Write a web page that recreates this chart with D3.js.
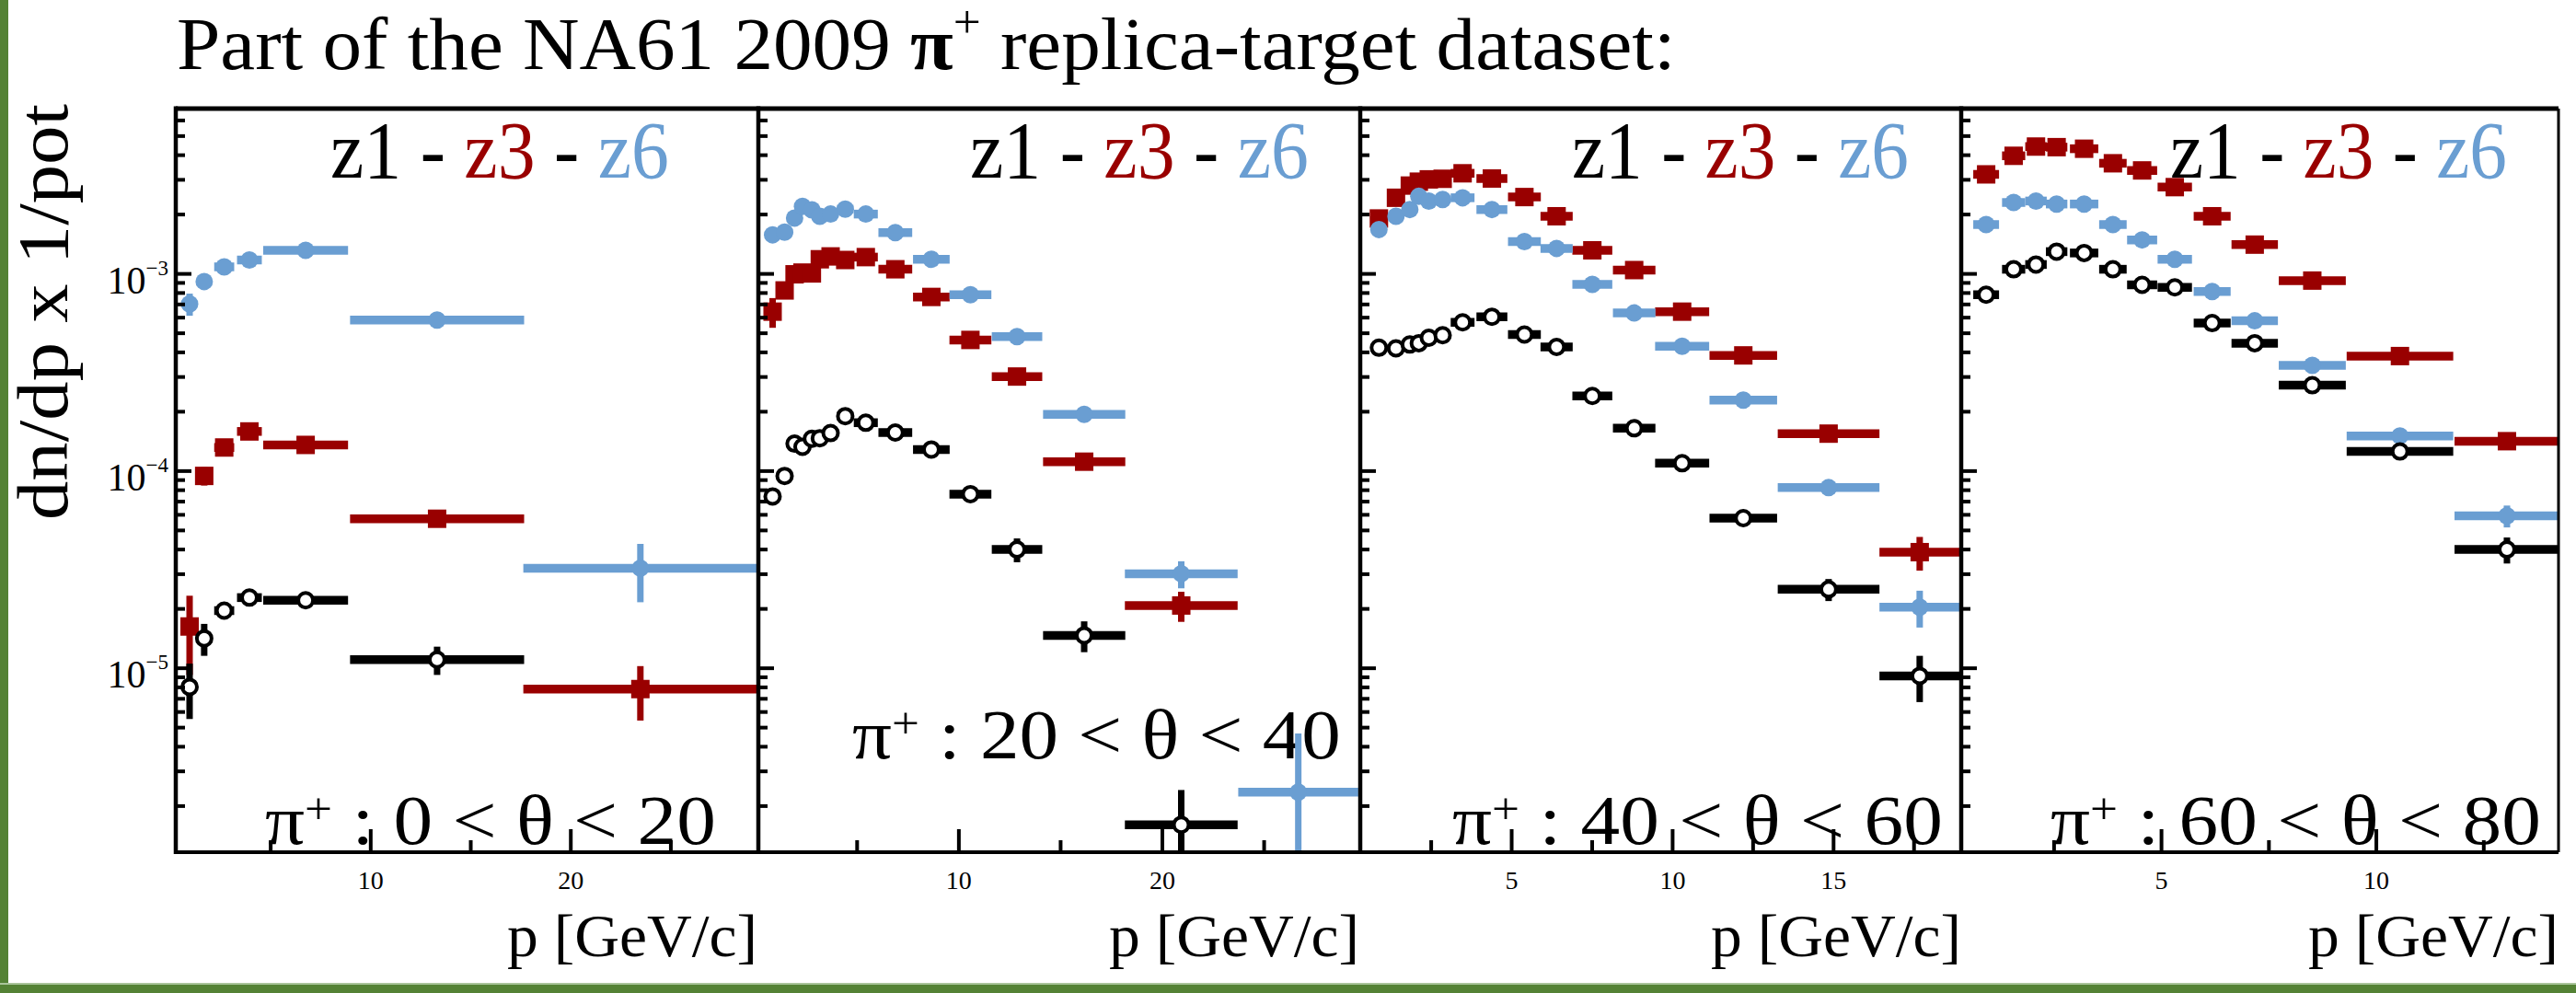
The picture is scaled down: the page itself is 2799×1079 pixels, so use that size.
<!DOCTYPE html>
<html>
<head>
<meta charset="utf-8">
<script src="https://cdn.jsdelivr.net/npm/d3@7"></script>
<style>
    html, body { margin: 0; padding: 0; background: #fff; }
    svg { display: block; }
    text { font-family: "Liberation Serif", "Times New Roman", serif; }
</style>
</head>
<body>
<div id="chart"></div>
<script>

// ---- data ----
var thetaBins = ["0 < θ < 20", "20 < θ < 40", "40 < θ < 60", "60 < θ < 80"];
var pRanges = [[0.28, 29.35], [0.17, 29.7], [0.31, 18.98], [0.35, 14.25]];
var pMajorTicks = [[10, 20], [10, 20], [5, 10, 15], [5, 10]];
var pMinorTicks = [[5, 15, 25], [5, 15, 25], [2.5, 7.5, 12.5, 17.5], [2.5, 7.5, 12.5]];
var yDecades = [-3, -4, -5];
var yRange = [1.161e-6, 6.855e-3];

// p bins: [centre, half width]
var pBins0 = [[0.97,0.3],[1.7,0.35],[2.7,0.5],[3.96,0.62],[6.77,2.12],[13.34,4.35],[23.5,5.85]];
var pBins1 = [[0.87,0.25],[1.46,0.25],[1.95,0.2],[2.34,0.2],[2.8,0.2],[3.19,0.2],[3.72,0.3],[4.44,0.4],[5.45,0.59],[6.9,0.83],[8.67,0.9],[10.59,1.03],[12.88,1.24],[16.18,2.02],[20.95,2.77],[26.7,2.95]];
var pBins2 = [[0.89,0.2],[1.42,0.2],[1.85,0.15],[2.13,0.15],[2.44,0.15],[2.87,0.2],[3.49,0.37],[4.4,0.48],[5.41,0.51],[6.41,0.5],[7.52,0.62],[8.82,0.66],[10.31,0.84],[12.21,1.05],[14.86,1.58],[17.69,1.25]];
var pBins3 = [[0.93,0.3],[1.57,0.27],[2.09,0.25],[2.57,0.25],[3.21,0.33],[3.88,0.32],[4.56,0.35],[5.32,0.4],[6.19,0.43],[7.18,0.54],[8.52,0.78],[10.56,1.24],[13.05,1.22]];

// dn/dp x 1/pot: [value, error]
var z1_0 = [[8.0e-6,2.5e-6],[1.41e-5,2.6e-6],[1.95e-5,1.2e-6],[2.27e-5,1.0e-6],[2.2e-5,0.8e-6],[1.1e-5,1.8e-6],null];
var z3_0 = [[1.62e-5,7.0e-6],[9.4e-5,1.0e-5],[1.31e-4,1.3e-5],[1.58e-4,0.9e-5],[1.35e-4,0.6e-5],[5.7e-5,0.3e-5],[7.8e-6,2.4e-6]];
var z6_0 = [[7.0e-4,0.9e-4],[9.1e-4,0.5e-4],[1.08e-3,0.4e-4],[1.17e-3,0.4e-4],[1.31e-3,0.4e-4],[5.8e-4,0.3e-4],[3.2e-5,1.05e-5]];

var z1_1 = [[7.4e-5,0.5e-5],[9.4e-5,0.6e-5],[1.37e-4,0.6e-5],[1.32e-4,0.6e-5],[1.45e-4,0.6e-5],[1.46e-4,0.6e-5],[1.55e-4,0.6e-5],[1.89e-4,0.7e-5],[1.75e-4,0.6e-5],[1.56e-4,0.6e-5],[1.28e-4,0.6e-5],[7.6e-5,0.5e-5],[3.98e-5,5.5e-6],[1.46e-5,2.6e-6],[1.6e-6,0.8e-6],null];
var z3_1 = [[6.4e-4,1.1e-4],[8.2e-4,0.6e-4],[9.9e-4,0.4e-4],[1.01e-3,0.4e-4],[1.0e-3,0.4e-4],[1.18e-3,0.4e-4],[1.22e-3,0.4e-4],[1.17e-3,0.4e-4],[1.21e-3,0.4e-4],[1.05e-3,0.4e-4],[7.6e-4,0.3e-4],[4.6e-4,0.2e-4],[3.0e-4,0.15e-4],[1.11e-4,0.6e-5],[2.07e-5,3.6e-6],null];
var z6_1 = [[1.57e-3,0.6e-4],[1.62e-3,0.6e-4],[1.91e-3,0.6e-4],[2.19e-3,0.6e-4],[2.1e-3,0.6e-4],[1.95e-3,0.6e-4],[2.0e-3,0.6e-4],[2.12e-3,0.6e-4],[2.0e-3,0.6e-4],[1.61e-3,0.5e-4],[1.18e-3,0.4e-4],[7.8e-4,0.3e-4],[4.78e-4,0.2e-4],[1.93e-4,0.8e-5],[3.0e-5,4.7e-6],[2.34e-6,2.3e-6]];

var z1_2 = [[4.2e-4,0.2e-4],[4.17e-4,0.2e-4],[4.36e-4,0.2e-4],[4.43e-4,0.2e-4],[4.72e-4,0.2e-4],[4.86e-4,0.2e-4],[5.65e-4,0.2e-4],[6.03e-4,0.2e-4],[4.9e-4,0.2e-4],[4.24e-4,0.2e-4],[2.39e-4,0.1e-4],[1.64e-4,0.8e-5],[1.09e-4,0.6e-5],[5.74e-5,0.4e-5],[2.5e-5,3.2e-6],[9.1e-6,2.4e-6]];
var z3_2 = [[1.9e-3,0.8e-4],[2.42e-3,0.8e-4],[2.79e-3,0.8e-4],[2.92e-3,0.8e-4],[3.0e-3,0.8e-4],[3.02e-3,0.8e-4],[3.22e-3,0.8e-4],[3.03e-3,0.8e-4],[2.44e-3,0.7e-4],[1.95e-3,0.6e-4],[1.31e-3,0.5e-4],[1.04e-3,0.4e-4],[6.4e-4,0.3e-4],[3.84e-4,0.2e-4],[1.54e-4,0.9e-5],[3.86e-5,7.5e-6]];
var z6_2 = [[1.67e-3,0.6e-4],[1.95e-3,0.6e-4],[2.11e-3,0.6e-4],[2.46e-3,0.6e-4],[2.33e-3,0.6e-4],[2.37e-3,0.6e-4],[2.42e-3,0.6e-4],[2.11e-3,0.6e-4],[1.45e-3,0.5e-4],[1.34e-3,0.5e-4],[8.8e-4,0.4e-4],[6.3e-4,0.3e-4],[4.27e-4,0.2e-4],[2.28e-4,0.1e-4],[8.2e-5,0.5e-5],[2.03e-5,4.3e-6]];

var z1_3 = [[7.8e-4,0.3e-4],[1.05e-3,0.3e-4],[1.11e-3,0.3e-4],[1.29e-3,0.3e-4],[1.27e-3,0.3e-4],[1.05e-3,0.3e-4],[8.75e-4,0.3e-4],[8.5e-4,0.3e-4],[5.6e-4,0.2e-4],[4.43e-4,0.2e-4],[2.71e-4,0.1e-4],[1.25e-4,0.7e-5],[3.98e-5,6.0e-6]];
var z3_3 = [[3.18e-3,0.9e-4],[3.95e-3,0.9e-4],[4.4e-3,0.9e-4],[4.37e-3,0.9e-4],[4.29e-3,0.9e-4],[3.62e-3,0.9e-4],[3.33e-3,0.9e-4],[2.74e-3,0.8e-4],[1.95e-3,0.6e-4],[1.40e-3,0.5e-4],[9.2e-4,0.4e-4],[3.81e-4,0.2e-4],[1.41e-4,0.9e-5]];
var z6_3 = [[1.77e-3,0.6e-4],[2.29e-3,0.6e-4],[2.33e-3,0.6e-4],[2.25e-3,0.6e-4],[2.25e-3,0.6e-4],[1.77e-3,0.6e-4],[1.48e-3,0.5e-4],[1.18e-3,0.4e-4],[8.1e-4,0.3e-4],[5.75e-4,0.2e-4],[3.42e-4,0.15e-4],[1.5e-4,0.8e-5],[5.9e-5,7.5e-6]];

var panels = [
    {bins: pBins0, z1: z1_0, z3: z3_0, z6: z6_0},
    {bins: pBins1, z1: z1_1, z3: z3_1, z6: z6_1},
    {bins: pBins2, z1: z1_2, z3: z3_2, z6: z6_2},
    {bins: pBins3, z1: z1_3, z3: z3_3, z6: z6_3}
];

// ---- layout ----
var W = 2799, H = 1079;
var frameTop = 118, frameBottom = 926;
var panelX = [[191, 823], [824, 1477], [1478, 2131], [2131, 2780]];
var legendX = [[359, 727], [1054, 1422], [1708, 2074], [2358, 2724]];
var labelX = [[288, 778], [926, 1457], [1578, 2111], [2228, 2761]];
var labelBase = [917, 824, 917, 917];
var colors = {z1: "#000000", z3: "#990000", z6: "#6a9ed2"};

var svg = d3.select("#chart").append("svg")
    .attr("width", W)
    .attr("height", H);

svg.append("rect").attr("width", W).attr("height", H).attr("fill", "#fff");

// slide border
svg.append("rect").attr("x", 0).attr("y", 0).attr("width", 9).attr("height", H).attr("fill", "#548235");
svg.append("rect").attr("x", 0).attr("y", 1070).attr("width", W).attr("height", 9).attr("fill", "#548235");
svg.append("rect").attr("x", 0).attr("y", 1068).attr("width", W).attr("height", 2).attr("fill", "#a9c49a");

// squeeze/stretch a text horizontally so it spans x0..x1
function fitText(sel, x0, x1) {
    var b = sel.node().getBBox();
    var s = (x1 - x0) / b.width;
    sel.attr("transform", "translate(" + x0 + ",0) scale(" + s + ",1) translate(" + (-b.x) + ",0)");
}

// title
var title = svg.append("text")
    .attr("x", 192).attr("y", 75)
    .attr("font-size", 80);
title.append("tspan").text("Part of the NA61 2009 ");
title.append("tspan").attr("font-weight", "bold").text("π");
title.append("tspan").attr("font-size", 50).attr("dy", -34).text("+");
title.append("tspan").attr("dy", 34).text(" replica-target dataset:");
fitText(title, 192, 1821);

// y title
svg.append("text")
    .attr("transform", "translate(73,339) rotate(-90)")
    .attr("text-anchor", "middle")
    .attr("font-size", 78)
    .attr("textLength", 452)
    .attr("lengthAdjust", "spacingAndGlyphs")
    .text("dn/dp x 1/pot");

var y = d3.scaleLog().domain(yRange).range([frameBottom, frameTop]);

var yMinor = [];
[-6, -5, -4, -3].forEach(function(k) {
    for (var m = 2; m <= 9; m++) {
        var v = m * Math.pow(10, k);
        if (v > yRange[0] && v < yRange[1]) yMinor.push(v);
    }
});

panels.forEach(function(pn, i) {
    var x = d3.scaleLinear().domain(pRanges[i]).range(panelX[i]);
    var g = svg.append("g").attr("class", "panel" + i);

    g.append("clipPath").attr("id", "clip" + i)
        .append("rect")
        .attr("x", panelX[i][0]).attr("y", frameTop)
        .attr("width", panelX[i][1] - panelX[i][0])
        .attr("height", frameBottom - frameTop);

    // legend "z1 - z3 - z6"
    var leg = g.append("text").attr("x", legendX[i][0]).attr("y", 193).attr("font-size", 88);
    leg.append("tspan").attr("fill", colors.z1).text("z1");
    leg.append("tspan").attr("fill", "#000").text(" - ");
    leg.append("tspan").attr("fill", colors.z3).text("z3");
    leg.append("tspan").attr("fill", "#000").text(" - ");
    leg.append("tspan").attr("fill", colors.z6).text("z6");
    fitText(leg, legendX[i][0], legendX[i][1]);

    // theta bin label
    var lab = g.append("text").attr("x", labelX[i][0]).attr("y", labelBase[i]).attr("font-size", 77);
    lab.append("tspan").text("π");
    lab.append("tspan").attr("font-size", 48).attr("dy", -22).text("+");
    lab.append("tspan").attr("dy", 22).text(" : " + thetaBins[i]);
    fitText(lab, labelX[i][0], labelX[i][1]);

    // x title
    var xt = g.append("text").attr("x", panelX[i][1] - 272).attr("y", 1039).attr("font-size", 65)
        .text("p [GeV/c]");
    fitText(xt, panelX[i][1] - 272, panelX[i][1]);

    // data points
    var dg = g.append("g").attr("clip-path", "url(#clip" + i + ")");
    ["z3", "z6", "z1"].forEach(function(key) {
        var rows = pn.bins.map(function(b, j) {
            var v = pn[key][j];
            return v ? {p: b[0], dp: b[1], val: v[0], err: v[1]} : null;
        }).filter(function(d) { return d; });

        var s = dg.append("g").attr("class", key);
        s.selectAll(".hbar").data(rows).enter().append("line")
            .attr("x1", function(d) { return x(d.p - d.dp); })
            .attr("x2", function(d) { return x(d.p + d.dp); })
            .attr("y1", function(d) { return y(d.val); })
            .attr("y2", function(d) { return y(d.val); })
            .attr("stroke", colors[key])
            .attr("stroke-width", 9.5);
        s.selectAll(".vbar").data(rows).enter().append("line")
            .attr("x1", function(d) { return x(d.p); })
            .attr("x2", function(d) { return x(d.p); })
            .attr("y1", function(d) { return y(d.val + d.err); })
            .attr("y2", function(d) { return d.val - d.err > yRange[0] ? y(d.val - d.err) : frameBottom + 10; })
            .attr("stroke", colors[key])
            .attr("stroke-width", 7);

        if (key === "z3") {
            s.selectAll(".mk").data(rows).enter().append("rect")
                .attr("x", function(d) { return x(d.p) - 10; })
                .attr("y", function(d) { return y(d.val) - 10; })
                .attr("width", 20).attr("height", 20)
                .attr("fill", colors.z3);
        } else if (key === "z6") {
            s.selectAll(".mk").data(rows).enter().append("circle")
                .attr("cx", function(d) { return x(d.p); })
                .attr("cy", function(d) { return y(d.val); })
                .attr("r", 9.5)
                .attr("fill", colors.z6);
        } else {
            s.selectAll(".mk").data(rows).enter().append("circle")
                .attr("cx", function(d) { return x(d.p); })
                .attr("cy", function(d) { return y(d.val); })
                .attr("r", 8)
                .attr("fill", "#fff")
                .attr("stroke", "#000")
                .attr("stroke-width", 4);
        }
    });

    // x axis ticks
    var xMaj = g.append("g").attr("transform", "translate(0," + frameBottom + ")")
        .call(d3.axisBottom(x).tickValues(pMajorTicks[i]).tickSizeInner(-25).tickSizeOuter(0)
            .tickPadding(20).tickFormat(d3.format("d")));
    var xMin = g.append("g").attr("transform", "translate(0," + frameBottom + ")")
        .call(d3.axisBottom(x).tickValues(pMinorTicks[i]).tickSizeInner(-13).tickSizeOuter(0)
            .tickFormat(""));
    [xMaj, xMin].forEach(function(a) {
        a.select(".domain").remove();
        a.selectAll(".tick line").attr("stroke", "#000").attr("stroke-width", 4);
        a.selectAll(".tick text").attr("font-size", 28).attr("font-family", "Liberation Serif").attr("fill", "#000");
    });

    // y axis ticks
    var yMaj = g.append("g").attr("transform", "translate(" + panelX[i][0] + ",0)")
        .call(d3.axisLeft(y).tickValues(yDecades.map(function(k) { return Math.pow(10, k); }))
            .tickSizeInner(-17).tickSizeOuter(0).tickPadding(8).tickFormat(""));
    var yMin = g.append("g").attr("transform", "translate(" + panelX[i][0] + ",0)")
        .call(d3.axisLeft(y).tickValues(yMinor).tickSizeInner(-10).tickSizeOuter(0).tickFormat(""));
    [yMaj, yMin].forEach(function(a) {
        a.select(".domain").remove();
        a.selectAll(".tick line").attr("stroke", "#000").attr("stroke-width", 4);
    });

    if (i === 0) {
        yMaj.selectAll(".tick text").each(function(d) {
            var t = d3.select(this)
                .attr("dy", null).attr("y", 21)
                .attr("font-size", 42).attr("font-family", "Liberation Serif").attr("fill", "#000");
            t.append("tspan").text("10");
            t.append("tspan").attr("font-size", 23).attr("dy", -20)
                .text("\u2212" + Math.abs(Math.round(Math.log10(d))));
        });
    }

    // frame
    g.append("line").attr("x1", panelX[i][0]).attr("x2", panelX[i][0]).attr("y1", frameTop - 2.5).attr("y2", frameBottom + 2)
        .attr("stroke", "#000").attr("stroke-width", 4.5);
});

// shared top and bottom lines, right edge
svg.append("line").attr("x1", panelX[0][0]).attr("x2", panelX[3][1]).attr("y1", frameTop).attr("y2", frameTop)
    .attr("stroke", "#000").attr("stroke-width", 5);
svg.append("line").attr("x1", panelX[0][0]).attr("x2", panelX[3][1]).attr("y1", frameBottom).attr("y2", frameBottom)
    .attr("stroke", "#000").attr("stroke-width", 4);
svg.append("line").attr("x1", panelX[3][1]).attr("x2", panelX[3][1]).attr("y1", frameTop).attr("y2", frameBottom)
    .attr("stroke", "#000").attr("stroke-width", 3);

</script>
</body>
</html>
